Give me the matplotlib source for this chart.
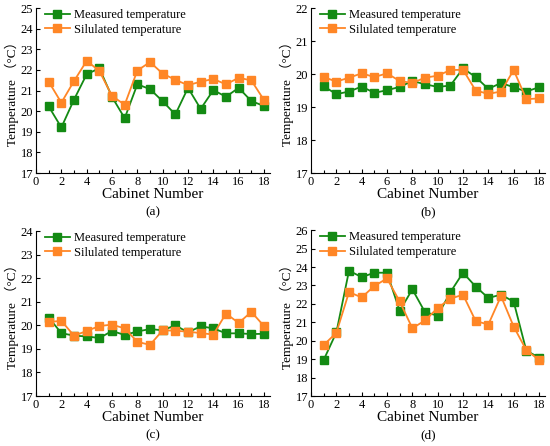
import numpy as np
import matplotlib
matplotlib.use('Agg')
import matplotlib.pyplot as plt
from matplotlib.ticker import MultipleLocator

plt.rcParams['font.family'] = ['Liberation Serif', 'Noto Sans CJK SC']

cabinets = np.arange(1, 19)

# (a)
meas_a = [20.23, 19.21, 20.56, 21.79, 22.08, 20.69, 19.66, 21.30, 21.07,
          20.48, 19.84, 21.13, 20.11, 21.02, 20.70, 21.13, 20.49, 20.25]
sim_a = [21.43, 20.41, 21.46, 22.44, 21.95, 20.74, 20.31, 21.97, 22.38,
         21.82, 21.52, 21.26, 21.43, 21.56, 21.30, 21.62, 21.49, 20.54]
# (b)
meas_b = [19.63, 19.39, 19.47, 19.62, 19.43, 19.51, 19.61, 19.79, 19.69,
          19.61, 19.65, 20.17, 19.91, 19.55, 19.73, 19.60, 19.47, 19.60]
sim_b = [19.91, 19.77, 19.89, 20.02, 19.91, 20.02, 19.79, 19.73, 19.89,
         19.95, 20.12, 20.13, 19.50, 19.40, 19.47, 20.12, 19.24, 19.26]
# (c)
meas_c = [20.33, 19.67, 19.56, 19.53, 19.46, 19.76, 19.59, 19.74, 19.84,
          19.79, 20.00, 19.70, 19.96, 19.87, 19.66, 19.66, 19.63, 19.64]
sim_c = [20.14, 20.19, 19.56, 19.76, 19.97, 20.03, 19.87, 19.30, 19.17,
         19.79, 19.77, 19.73, 19.67, 19.61, 20.50, 20.10, 20.57, 19.97]
# (d)
meas_d = [18.96, 20.45, 23.80, 23.45, 23.69, 23.69, 21.62, 22.79, 21.55,
          21.36, 22.63, 23.69, 22.94, 22.32, 22.50, 22.12, 19.46, 19.09]
sim_d = [19.77, 20.43, 22.64, 22.35, 22.97, 23.38, 22.13, 20.68, 21.10,
         21.78, 22.28, 22.50, 21.07, 20.88, 22.42, 20.77, 19.49, 18.96]

panels = [('(a)', meas_a, sim_a, 25), ('(b)', meas_b, sim_b, 22),
          ('(c)', meas_c, sim_c, 24), ('(d)', meas_d, sim_d, 26)]

green = '#138a13'
orange = '#ff8626'

fig = plt.figure(figsize=(5.5, 4.46), dpi=100)
boxes = [[0.0655, 0.612, 0.426, 0.37], [0.5655, 0.612, 0.426, 0.37],
         [0.0655, 0.112, 0.426, 0.37], [0.5655, 0.112, 0.426, 0.372]]

for box, (tag, meas, sim, ytop) in zip(boxes, panels):
    ax = fig.add_axes(box)
    ax.plot(cabinets, meas, '-s', color=green, lw=1.3, ms=5.5, label='Measured temperature')
    ax.plot(cabinets, sim, '-s', color=orange, lw=1.3, ms=5.5, label='Silulated temperature')
    ax.set_xlim(0, 18.5)
    ax.set_ylim(17, ytop)
    ax.xaxis.set_major_locator(MultipleLocator(2))
    ax.xaxis.set_minor_locator(MultipleLocator(1))
    ax.yaxis.set_major_locator(MultipleLocator(1))
    ax.spines['top'].set_visible(False)
    ax.spines['right'].set_visible(False)
    ax.tick_params(direction='in', length=3, width=0.8, labelsize=9, pad=2)
    ax.tick_params(which='minor', direction='in', length=2, width=0.8)
    ax.set_xlabel('Cabinet Number', fontsize=11, labelpad=0)
    ax.set_ylabel('Temperature （°C）', fontsize=9.5, labelpad=1)
    ax.text(0.5, -0.235, tag, transform=ax.transAxes, ha='center', va='center', fontsize=9.5)
    ax.legend(loc='upper left', bbox_to_anchor=(0.0, 1.045), frameon=False, fontsize=9,
              handlelength=2.0, handletextpad=0.3, labelspacing=0.2, borderaxespad=0.3)

fig.savefig('out.png', dpi=100)
